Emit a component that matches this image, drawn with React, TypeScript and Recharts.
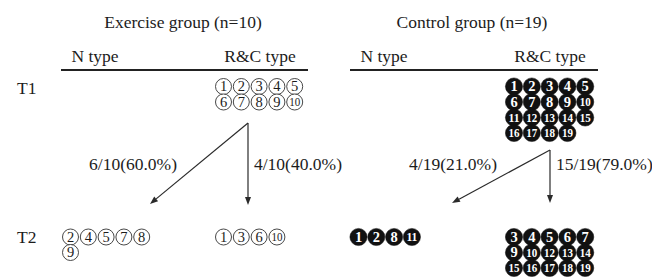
import React from 'react';
import { ScatterChart, Scatter, XAxis, YAxis, ReferenceLine } from 'recharts';

// ---------- data ----------
const groupTitles = ['Exercise group (n=10)', 'Control group (n=19)'];
const typeLabels = ['N type', 'R&C type'];
const timeLabels = ['T1', 'T2'];

const exerciseT1N: number[] = [];
const exerciseT1RC = [1, 2, 3, 4, 5, 6, 7, 8, 9, 10];
const exerciseT2N = [2, 4, 5, 7, 8, 9];
const exerciseT2RC = [1, 3, 6, 10];

const controlT1N: number[] = [];
const controlT1RC = [1, 2, 3, 4, 5, 6, 7, 8, 9, 10, 11, 12, 13, 14, 15, 16, 17, 18, 19];
const controlT2N = [1, 2, 8, 11];
const controlT2RC = [3, 4, 5, 6, 7, 9, 10, 12, 13, 14, 15, 16, 17, 18, 19];

const transitionLabels = ['6/10(60.0%)', '4/10(40.0%)', '4/19(21.0%)', '15/19(79.0%)'];

// ---------- layout ----------
const W = 652;
const H = 277;
const FONT = '"Liberation Serif", "Times New Roman", serif';
const INK = '#1c1c1c';
const PITCH_X = 17.8;
const PITCH_Y = 15.5;
const PER_ROW = 5;

const groupCenters = [183, 472];
const typeCenters = [[95, 260], [384, 550]];
const cellLeft = [[70.5, 223.5], [358.5, 514]];
const timeRowY = [86.5, 237];
const lineSpans = [[61, 308], [350, 598]];

type Pt = { x: number; y: number; id: number; filled: boolean };

const cells: { ids: number[]; g: number; t: number; time: number }[] = [
  { ids: exerciseT1N, g: 0, t: 0, time: 0 },
  { ids: exerciseT1RC, g: 0, t: 1, time: 0 },
  { ids: exerciseT2N, g: 0, t: 0, time: 1 },
  { ids: exerciseT2RC, g: 0, t: 1, time: 1 },
  { ids: controlT1N, g: 1, t: 0, time: 0 },
  { ids: controlT1RC, g: 1, t: 1, time: 0 },
  { ids: controlT2N, g: 1, t: 0, time: 1 },
  { ids: controlT2RC, g: 1, t: 1, time: 1 },
];

const points: Pt[] = [];
cells.forEach((c) => {
  c.ids.forEach((id, i) => {
    points.push({
      x: cellLeft[c.g][c.t] + (i % PER_ROW) * PITCH_X,
      y: timeRowY[c.time] + Math.floor(i / PER_ROW) * PITCH_Y,
      id,
      filled: c.g === 1,
    });
  });
});

type TextItem = { x: number; y: number; text: string; anchor: string; size: number };
const texts: TextItem[] = [];
groupTitles.forEach((t, g) => texts.push({ x: groupCenters[g], y: 28, text: t, anchor: 'middle', size: 17.5 }));
[0, 1].forEach((g) =>
  typeLabels.forEach((t, k) => texts.push({ x: typeCenters[g][k], y: 62, text: t, anchor: 'middle', size: 17.5 }))
);
timeLabels.forEach((t, k) => texts.push({ x: 17, y: [94, 243][k], text: t, anchor: 'start', size: 17.5 }));
const transPos = [
  { x: 177, anchor: 'end' },
  { x: 254, anchor: 'start' },
  { x: 497, anchor: 'end' },
  { x: 556, anchor: 'start' },
];
transitionLabels.forEach((t, k) =>
  texts.push({ x: transPos[k].x, y: 170, text: t, anchor: transPos[k].anchor, size: 17.5 })
);

const arrows = [
  { from: { x: 248, y: 123 }, to: { x: 150, y: 204 } },
  { from: { x: 248, y: 123 }, to: { x: 248, y: 205 } },
  { from: { x: 550, y: 150 }, to: { x: 452, y: 203 } },
  { from: { x: 550, y: 150 }, to: { x: 550, y: 203 } },
];

// ---------- shapes ----------
const CircleShape = (props: any) => {
  const { cx, cy, payload } = props;
  if (cx == null || cy == null) return null;
  const two = payload.id >= 10;
  const fs = two ? 12.5 : 14.5;
  const fill = payload.filled ? '#111' : '#fff';
  const txt = payload.filled ? '#fff' : INK;
  return (
    <g>
      <circle
        cx={cx}
        cy={cy}
        r={payload.filled ? 8.6 : 8}
        fill={fill}
        stroke={payload.filled ? '#111' : '#333'}
        strokeWidth={payload.filled ? 0.5 : 0.9}
      />
      <text
        x={cx}
        y={cy + fs * 0.34}
        textAnchor="middle"
        fontFamily={FONT}
        fontSize={fs}
        fontWeight={payload.filled ? 'bold' : 'normal'}
        fill={txt}
        {...(two ? { textLength: 11, lengthAdjust: 'spacingAndGlyphs' } : {})}
      >
        {payload.id}
      </text>
    </g>
  );
};

const TextShape = (props: any) => {
  const { cx, cy, payload } = props;
  if (cx == null || cy == null) return null;
  return (
    <text x={cx} y={cy} textAnchor={payload.anchor} fontFamily={FONT} fontSize={payload.size} fill={INK}>
      {payload.text}
    </text>
  );
};

const ArrowShape = (props: any) => {
  const { x1, y1, x2, y2 } = props;
  if ([x1, y1, x2, y2].some((v) => v == null || isNaN(v))) return null;
  const ang = Math.atan2(y2 - y1, x2 - x1);
  const len = 8;
  const half = 3;
  const bx = x2 - len * Math.cos(ang);
  const by = y2 - len * Math.sin(ang);
  const px = -Math.sin(ang) * half;
  const py = Math.cos(ang) * half;
  return (
    <g>
      <line x1={x1} y1={y1} x2={bx} y2={by} stroke="#2a2a2a" strokeWidth={1.2} />
      <polygon points={`${x2},${y2} ${bx + px},${by + py} ${bx - px},${by - py}`} fill="#2a2a2a" />
    </g>
  );
};

const RuleShape = (props: any) => {
  const { x1, y1, x2, y2 } = props;
  if ([x1, y1, x2, y2].some((v) => v == null || isNaN(v))) return null;
  return <line x1={x1} y1={y1} x2={x2} y2={y2} stroke="#222" strokeWidth={2} />;
};

export default function App() {
  return (
    <div style={{ position: 'absolute', left: 0, top: 0, width: W, height: H, background: '#fff' }}>
      <ScatterChart width={W} height={H} margin={{ top: 0, right: 0, bottom: 0, left: 0 }}>
        <XAxis type="number" dataKey="x" domain={[0, W]} hide allowDataOverflow />
        <YAxis type="number" dataKey="y" domain={[0, H]} reversed hide allowDataOverflow />
        {lineSpans.map((s, i) => (
          <ReferenceLine
            key={'rule' + i}
            segment={[{ x: s[0], y: 70 }, { x: s[1], y: 70 }]}
            shape={RuleShape}
            ifOverflow="visible"
          />
        ))}
        {arrows.map((a, i) => (
          <ReferenceLine key={'arr' + i} segment={[a.from, a.to]} shape={ArrowShape} ifOverflow="visible" />
        ))}
        <Scatter data={texts} shape={TextShape} isAnimationActive={false} />
        <Scatter data={points} shape={CircleShape} isAnimationActive={false} />
      </ScatterChart>
    </div>
  );
}
